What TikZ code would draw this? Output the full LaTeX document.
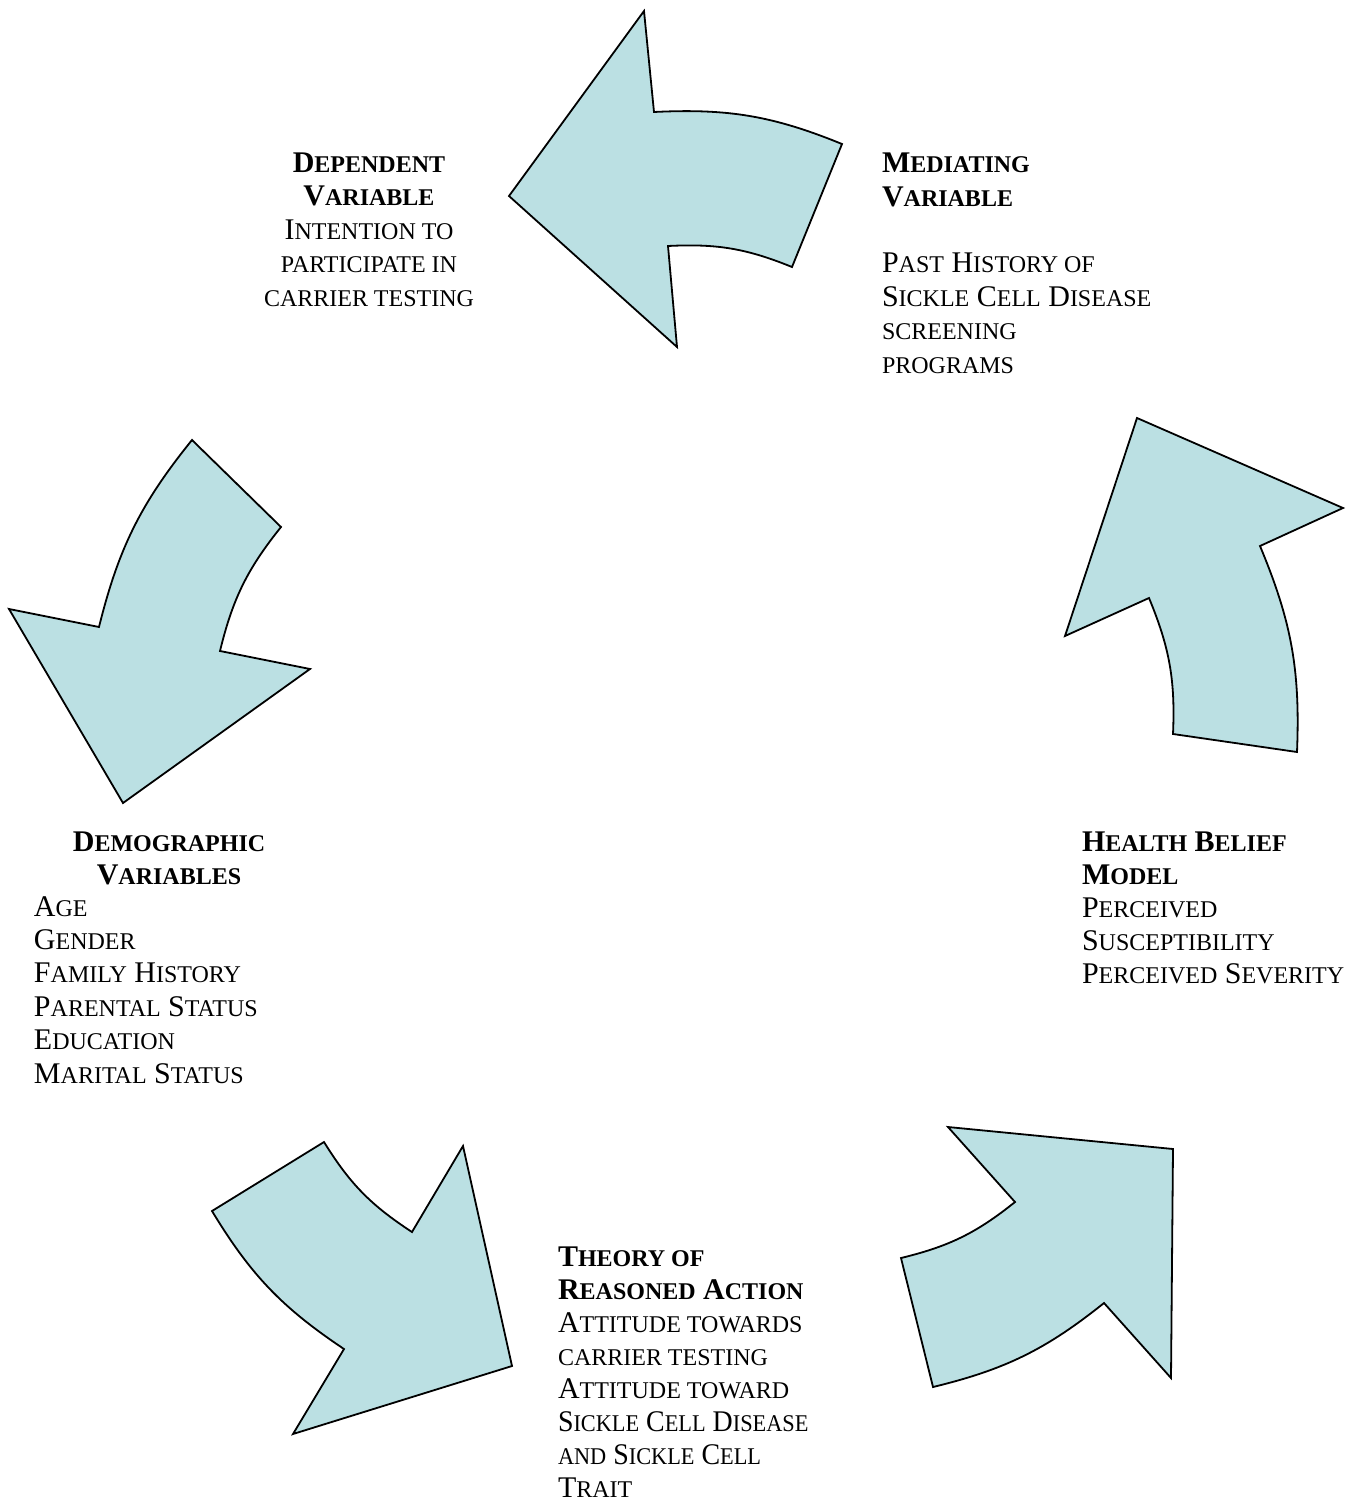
\documentclass[tikz,border=0pt]{standalone}
\usepackage{fontspec}
\usepackage{graphicx}
\setmainfont{Liberation Serif}
\definecolor{arrowfill}{RGB}{187,224,227}
\newcommand\smc[1]{{\fontsize{24}{33.4}\selectfont #1}}
\begin{document}
\begin{tikzpicture}[x=1pt,y=-1pt,
  cyc/.style={fill=arrowfill, draw=black, line width=1.8pt, line join=miter},
  lbl/.style={inner sep=0pt, outer sep=0pt, font=\fontsize{30}{33.4}\selectfont},
  obend/.style={bend left=12.5},
  ibend/.style={bend right=12.5}]
\useasboundingbox (0,0) rectangle (1346,1502);

% top arrow (points left)
\draw[cyc] (644,11) -- (654,112) to[obend] (842,144) -- (792,267) to[ibend] (668,246)
  -- (677,347) -- (509,196) -- cycle;
% right arrow (points up)
\draw[cyc] (1137,418) -- (1343,508) -- (1260,546) to[obend] (1297,752) -- (1173,734)
  to[ibend] (1149,598) -- (1065,636) -- cycle;
% left arrow (points down)
\draw[cyc] (192,440) -- (281,527) to[ibend] (220,651) -- (310,669) -- (123,803)
  -- (9,609) -- (99,627) to[obend] cycle;
% bottom-left arrow (points right)
\draw[cyc] (324,1142) to[ibend] (412,1232) -- (463,1146) -- (512,1366) -- (293,1434)
  -- (344,1349) to[obend] (212,1211) -- cycle;
% bottom-right arrow (points up-right)
\draw[cyc] (948,1127) -- (1173,1149) -- (1171,1378) -- (1104,1303) to[obend] (933,1387)
  -- (901,1258) to[ibend] (1015,1202) -- cycle;

% multi-line nodes: the base anchor is the baseline of the last line
\node[lbl, align=center, anchor=base] (dep) at (369,306)
  {\textbf{D\smc{EPENDENT}}\\ \textbf{V\smc{ARIABLE}}\\ I\smc{NTENTION TO}\\
   \smc{PARTICIPATE IN}\\ \smc{CARRIER TESTING}};
\node[lbl, align=left, anchor=base west] (med) at (882,373)
  {\textbf{M\smc{EDIATING}}\\ \textbf{V\smc{ARIABLE}}\\[33.4pt]
   P\smc{AST} H\smc{ISTORY OF}\\ S\smc{ICKLE} C\smc{ELL} D\smc{ISEASE}\\
   \smc{SCREENING}\\ \smc{PROGRAMS}};
\node[lbl, align=left, anchor=base west, font=\fontsize{30}{33}\selectfont] (hbm) at (1082,983)
  {\textbf{H\smc{EALTH} B\smc{ELIEF}}\\ \textbf{M\smc{ODEL}}\\ P\smc{ERCEIVED}\\
   S\smc{USCEPTIBILITY}\\ P\smc{ERCEIVED} S\smc{EVERITY}};
\node[lbl, align=center, anchor=base, font=\fontsize{30}{32.5}\selectfont] (demh) at (169,884)
  {\textbf{D\smc{EMOGRAPHIC}}\\ \textbf{V\smc{ARIABLES}}};
\node[lbl, align=left, anchor=base west] (demb) at (34,1083)
  {A\smc{GE}\\ G\smc{ENDER}\\ F\smc{AMILY} H\smc{ISTORY}\\ P\smc{ARENTAL} S\smc{TATUS}\\
   E\smc{DUCATION}\\ M\smc{ARITAL} S\smc{TATUS}};
\node[lbl, align=left, anchor=base west, font=\fontsize{30}{32.9}\selectfont] (tra) at (558,1497)
  {\textbf{T\smc{HEORY OF}}\\ \textbf{R\smc{EASONED} A\smc{CTION}}\\ A\smc{TTITUDE TOWARDS}\\
   \smc{CARRIER TESTING}\\ A\smc{TTITUDE TOWARD}\\
   \scalebox{0.93}[1]{S\smc{ICKLE} C\smc{ELL} D\smc{ISEASE}}\\
   \scalebox{0.93}[1]{\smc{AND} S\smc{ICKLE} C\smc{ELL}}\\ T\smc{RAIT}};
\end{tikzpicture}
\end{document}
